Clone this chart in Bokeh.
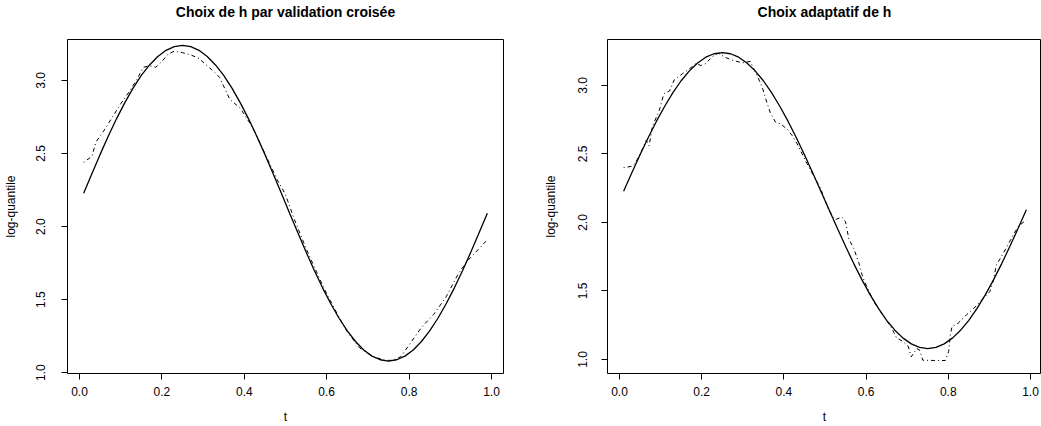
from bokeh.plotting import figure
from bokeh.layouts import row
from bokeh.models import FixedTicker, Range1d, Title
from bokeh.embed import file_html
from bokeh.resources import INLINE

# ---------------- data ----------------
t_true = [0.01, 0.03, 0.05, 0.07, 0.09, 0.11, 0.13, 0.15, 0.17, 0.19,
          0.21, 0.23, 0.25, 0.27, 0.29, 0.31, 0.33, 0.35, 0.37, 0.39,
          0.41, 0.43, 0.45, 0.47, 0.49, 0.51, 0.53, 0.55, 0.57, 0.59,
          0.61, 0.63, 0.65, 0.67, 0.69, 0.71, 0.73, 0.75, 0.77, 0.79,
          0.81, 0.83, 0.85, 0.87, 0.89, 0.91, 0.93, 0.95, 0.97, 0.99]
y_true = [2.228, 2.362, 2.494, 2.620, 2.739, 2.848, 2.947, 3.034, 3.106, 3.164,
          3.206, 3.231, 3.240, 3.231, 3.206, 3.164, 3.106, 3.034, 2.947, 2.848,
          2.739, 2.620, 2.494, 2.362, 2.228, 2.092, 1.958, 1.826, 1.700, 1.581,
          1.472, 1.373, 1.286, 1.214, 1.156, 1.114, 1.089, 1.080, 1.089, 1.114,
          1.156, 1.214, 1.286, 1.373, 1.472, 1.581, 1.700, 1.826, 1.958, 2.092]

t_cv = [0.01, 0.03, 0.04, 0.06, 0.08, 0.10, 0.12, 0.14, 0.155, 0.17,
        0.185, 0.20, 0.215, 0.23, 0.25, 0.27, 0.29, 0.31, 0.33, 0.34,
        0.365, 0.39, 0.42, 0.45, 0.48, 0.50, 0.52, 0.55, 0.58, 0.60,
        0.63, 0.65, 0.68, 0.71, 0.74, 0.76, 0.78, 0.80, 0.83, 0.86,
        0.89, 0.92, 0.94, 0.96, 0.97, 0.99]
y_cv = [2.44, 2.48, 2.58, 2.66, 2.75, 2.84, 2.92, 3.01, 3.09, 3.10,
        3.09, 3.13, 3.18, 3.20, 3.19, 3.175, 3.15, 3.10, 3.05, 3.02,
        2.87, 2.81, 2.68, 2.50, 2.32, 2.22, 2.06, 1.85, 1.66, 1.54,
        1.38, 1.28, 1.17, 1.115, 1.085, 1.085, 1.11, 1.19, 1.31, 1.40,
        1.52, 1.68, 1.76, 1.82, 1.85, 1.91]

t_ad = [0.01, 0.03, 0.04, 0.055, 0.065, 0.072, 0.08, 0.097, 0.108, 0.122,
        0.133, 0.153, 0.174, 0.186, 0.198, 0.21, 0.226, 0.24, 0.257, 0.278,
        0.30, 0.318, 0.335, 0.347, 0.356, 0.367, 0.38, 0.392, 0.408, 0.42,
        0.432, 0.456, 0.489, 0.509, 0.525, 0.541, 0.55, 0.558, 0.57, 0.582,
        0.59, 0.596, 0.619, 0.635, 0.651, 0.662, 0.674, 0.69, 0.702, 0.71,
        0.723, 0.73, 0.738, 0.767, 0.793, 0.801, 0.805, 0.809, 0.824, 0.844,
        0.861, 0.877, 0.893, 0.901, 0.909, 0.917, 0.929, 0.945, 0.958, 0.97,
        0.99]
y_ad = [2.40, 2.41, 2.44, 2.53, 2.60, 2.56, 2.70, 2.82, 2.94, 2.96,
        3.04, 3.085, 3.13, 3.16, 3.145, 3.16, 3.21, 3.235, 3.205, 3.18,
        3.165, 3.175, 3.07, 2.99, 2.90, 2.80, 2.73, 2.72, 2.68, 2.635,
        2.575, 2.43, 2.25, 2.09, 2.02, 2.04, 2.005, 1.88, 1.81, 1.71,
        1.62, 1.57, 1.42, 1.35, 1.28, 1.23, 1.16, 1.13, 1.10, 1.02,
        1.08, 1.07, 0.995, 0.993, 0.993, 1.06, 1.18, 1.24, 1.265, 1.325,
        1.37, 1.42, 1.47, 1.495, 1.57, 1.69, 1.75, 1.835, 1.91, 1.97,
        2.02]

x_ticks = [0.0, 0.2, 0.4, 0.6, 0.8, 1.0]
x_tick_labels = ["0.0", "0.2", "0.4", "0.6", "0.8", "1.0"]
y_ticks = [1.0, 1.5, 2.0, 2.5, 3.0]
y_tick_labels = ["1.0", "1.5", "2.0", "2.5", "3.0"]

titles = ["Choix de h par validation croisée", "Choix adaptatif de h"]
x_label = "t"
y_label = "log-quantile"

FONT = "Liberation Sans"


def make_panel(title, t_est, y_est, xr, yr, width, b_left, b_right,
               ylab_standoff, yaxis_standoff):
    p = figure(width=width, height=426,
               x_range=Range1d(xr[0], xr[1]), y_range=Range1d(yr[0], yr[1]),
               output_backend="svg", toolbar_location=None,
               min_border_left=b_left, min_border_right=b_right,
               min_border_top=39, min_border_bottom=52,
               title=None)
    p.background_fill_color = "white"
    p.border_fill_color = "white"
    p.outline_line_color = "black"
    p.outline_line_width = 1
    p.xgrid.visible = False
    p.ygrid.visible = False

    # spacer between the frame and the title (closest to the frame)
    spacer = Title(text=" ", text_font_size="2px", standoff=11)
    p.add_layout(spacer, "above")
    main = Title(text=title, text_font=FONT, text_font_size="14px",
                 text_font_style="bold", text_color="black",
                 align="center", vertical_align="top", standoff=6)
    p.add_layout(main, "above")

    for ax in (p.xaxis[0], p.yaxis[0]):
        ax.axis_line_color = None
        ax.major_tick_line_color = "black"
        ax.major_tick_in = 0
        ax.major_tick_out = 6
        ax.minor_tick_line_color = None
        ax.major_label_text_font = FONT
        ax.major_label_text_font_size = "12px"
        ax.major_label_text_color = "black"
        ax.axis_label_text_font = FONT
        ax.axis_label_text_font_size = "12px"
        ax.axis_label_text_font_style = "normal"
        ax.axis_label_text_color = "black"

    p.xaxis.ticker = FixedTicker(ticks=x_ticks)
    p.xaxis.major_label_overrides = dict(zip(x_ticks, x_tick_labels))
    p.xaxis.major_label_standoff = 7
    p.xaxis.axis_label = x_label
    p.xaxis.axis_label_standoff = 11

    p.yaxis.ticker = FixedTicker(ticks=y_ticks)
    p.yaxis.major_label_overrides = dict(zip(y_ticks, y_tick_labels))
    p.yaxis.major_label_orientation = "vertical"
    p.yaxis.major_label_standoff = ylab_standoff
    p.yaxis.axis_label = y_label
    p.yaxis.axis_label_standoff = yaxis_standoff

    p.line(t_true, y_true, line_color="black", line_width=1.3)
    p.line(t_est, y_est, line_color="black", line_width=1, line_dash="1 3 4 3")
    return p


p1 = make_panel(titles[0], t_cv, y_cv, (-0.0292, 1.0292), (0.995, 3.28),
                520, 67, 17, 16, 16)
p2 = make_panel(titles[1], t_ad, y_ad, (-0.0292, 1.0268), (0.898, 3.335),
                521, 87, 0, 14, 18)

layout = row(p1, p2)
open("out.html", "w").write(file_html(layout, INLINE))
